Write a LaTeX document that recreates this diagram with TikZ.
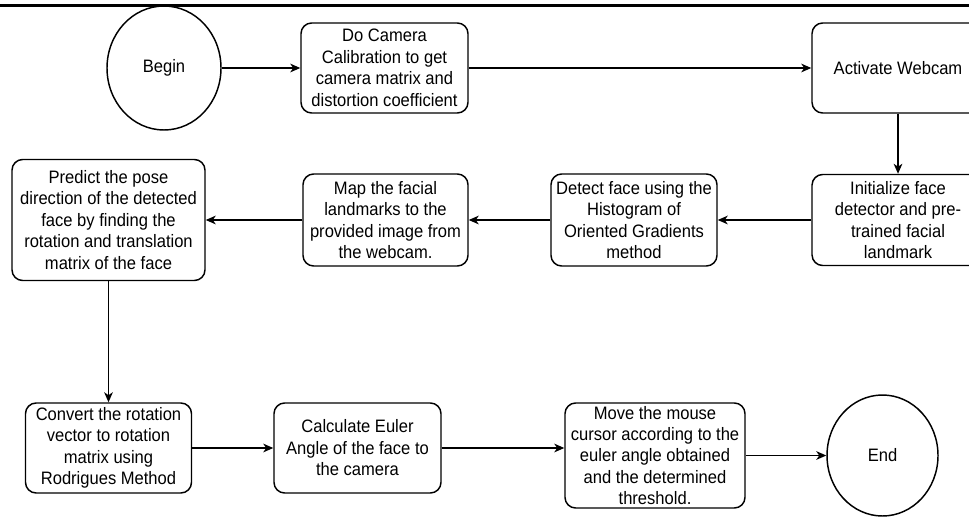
\documentclass[tikz,border=0pt]{standalone}
\usepackage{fontspec}
\setmainfont[FakeStretch=0.92]{Liberation Sans}
\usetikzlibrary{arrows.meta,shapes.geometric}
% lengths given in screen pixels
\newcommand\pxl[1]{#1*0.75pt}
\tikzset{
  base/.style={draw, line width=1.1pt, align=center, inner sep=0pt,
    font=\fontsize{13.5}{16.1}\selectfont},
  stepbox/.style={base, rectangle, rounded corners=8pt},
  terminal/.style={base, ellipse},
  flow/.style={line width=1.1pt, -{Stealth[length=7.5pt,width=6.5pt,inset=2.2pt]}},
}
\begin{document}
\begin{tikzpicture}[x=0.75pt,y=-0.75pt]
\useasboundingbox (0,0) rectangle (969,517);
\clip (0,0) rectangle (969,517);
\fill[white] (0,0) rectangle (969,517);
% rule across the top
\draw[line width=2pt] (0,5.3) -- (969,5.3);

% first row
\node[terminal, minimum width={\pxl{114}}, minimum height={\pxl{124}}] (begin) at (164,68) {Begin};
\node[stepbox, minimum width={\pxl{167}}, minimum height={\pxl{90}}] (calib) at (384.5,68)
  {Do Camera\\Calibration to get\\camera matrix and\\distortion coefficient};
\node[stepbox, minimum width={\pxl{172}}, minimum height={\pxl{90}}] (webcam) at (898,68)
  {Activate Webcam};

% second row
\node[stepbox, minimum width={\pxl{172}}, minimum height={\pxl{91}}] (init) at (898,220)
  {Initialize face\\detector and pre-\\trained facial\\landmark};
\node[stepbox, minimum width={\pxl{166}}, minimum height={\pxl{92}}] (detect) at (634,220)
  {Detect face using the\\Histogram of\\Oriented Gradients\\method};
\node[stepbox, minimum width={\pxl{165}}, minimum height={\pxl{92}}] (map) at (385.5,220)
  {Map the facial\\landmarks to the\\provided image from\\the webcam.};
\node[stepbox, minimum width={\pxl{193}}, minimum height={\pxl{121}}] (predict) at (108.5,220)
  {Predict the pose\\direction of the detected\\face by finding the\\rotation and translation\\matrix of the face};

% third row
\node[stepbox, minimum width={\pxl{166}}, minimum height={\pxl{90}}] (convert) at (108.5,448)
  {Convert the rotation\\vector to rotation\\matrix using\\Rodrigues Method};
\node[stepbox, minimum width={\pxl{167}}, minimum height={\pxl{90}}] (euler) at (357.5,448)
  {Calculate Euler\\Angle of the face to\\the camera};
\node[stepbox, minimum width={\pxl{180}}, minimum height={\pxl{105}}] (mouse) at (655,455.5)
  {Move the mouse\\cursor according to the\\euler angle obtained\\and the determined\\threshold.};
\node[terminal, minimum width={\pxl{111}}, minimum height={\pxl{121}}] (end) at (882.5,455.5) {End};

% connectors
\draw[flow] (begin) -- (calib);
\draw[flow] (calib) -- (webcam);
\draw[flow] (webcam) -- (init);
\draw[flow] (init) -- (detect);
\draw[flow] (detect) -- (map);
\draw[flow] (map) -- (predict);
\draw[flow] (predict) -- (convert);
\draw[flow] (convert) -- (euler);
\draw[flow] (euler.east) -- (euler.east -| mouse.west);
\draw[flow] (mouse) -- (end);
\end{tikzpicture}
\end{document}
